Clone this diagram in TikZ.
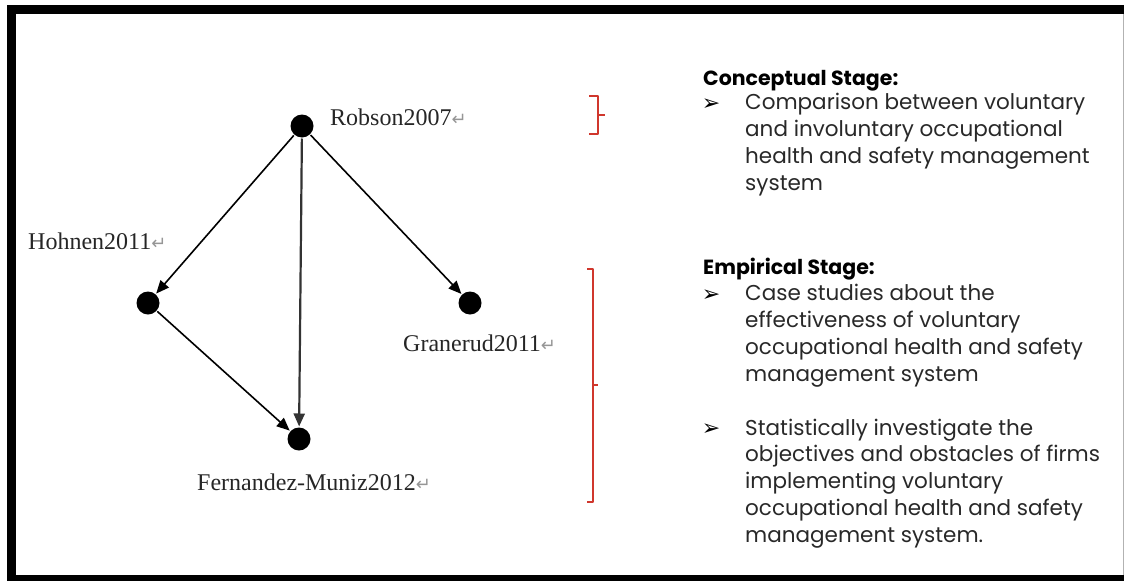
\documentclass[tikz,border=0pt]{standalone}
\usepackage{fontspec}
\setmainfont{Liberation Serif}
\setsansfont{Poppins}
\newfontfamily\symfont{DejaVu Sans}
\usetikzlibrary{arrows.meta}
\definecolor{bracketred}{RGB}{208,55,45}
\definecolor{retgray}{RGB}{150,150,150}
\definecolor{bodytext}{RGB}{40,40,40}
\newcommand{\retsym}{{\color{retgray}\symfont\fontsize{18}{18}\selectfont ↵}}
\newcommand{\bulsym}{{\symfont\fontsize{22}{22}\selectfont ➢}}
\tikzset{
  every picture/.style={line join=round, >=Triangle},
  dot/.style={circle, fill=black, minimum size=23pt, inner sep=0pt, outer sep=1pt},
  cite/.style={font=\fontsize{24}{24}\selectfont, text=black!85, inner sep=0pt, anchor=west},
  link/.style={-{Triangle[length=13pt,width=11pt]}, line width=1.6pt},
  brace/.style={draw=bracketred, line width=1.3pt},
  stage/.style={font=\sffamily\fontsize{21.5}{26.7}\selectfont, text=bodytext, align=left, anchor=base west, inner sep=0pt},
  head/.style={font=\sffamily\bfseries\fontsize{20.5}{26.7}\selectfont, anchor=base west, inner sep=0pt},
  bul/.style={inner sep=0pt, anchor=base},
}
\begin{document}
\begin{tikzpicture}[x=1pt,y=-1pt]
\useasboundingbox (0,0) rectangle (1124,581);
% frame
\fill (7,5) rectangle (1124,14);
\fill (7,5) rectangle (16,581);
\fill (7,575) rectangle (1124,581);
\fill[black!30] (1122.5,14) rectangle (1124,575);

% citation graph
\node[dot] (rob) at (302,126) {};
\node[dot] (hoh) at (148,303) {};
\node[dot] (gra) at (470,303) {};
\node[dot] (fer) at (299,439) {};
\node[cite] (roblab) at (330,117) {Robson2007\retsym};
\node[cite] (hohlab) at (28,241) {Hohnen2011\retsym};
\node[cite] (gralab) at (403,343) {Granerud2011\retsym};
\node[cite] (ferlab) at (197,482) {Fernandez-Muniz2012\retsym};

\draw[link] (rob) -- (hoh);
\draw[link, line width=2.2pt, black!80] (rob) -- (fer);
\draw[link] (rob) -- (gra);
\draw[link] (hoh) -- (fer);

% brackets
\draw[brace] (589,96) -- (598,96) -- (598,134) -- (589,134) (598,115) -- (605,115);
\draw[brace] (587,269) -- (593,269) -- (593,502) -- (587,502) (593,385) -- (598,385);

% stages (base = last line)
\node[head] (conhead) at (703,85) {Conceptual Stage:};
\node[bul] (conbul) at (711,110) {\bulsym};
\node[stage] (context) at (745,190) {Comparison between voluntary\\and involuntary occupational\\health and safety management\\system};

\node[head] (emphead) at (703,274) {Empirical Stage:};
\node[bul] (empbula) at (711,301) {\bulsym};
\node[stage] (emptexta) at (745,381) {Case studies about the\\effectiveness of voluntary\\occupational health and safety\\management system};
\node[bul] (empbulb) at (711,435) {\bulsym};
\node[stage] (emptextb) at (745,542) {Statistically investigate the\\objectives and obstacles of firms\\implementing voluntary\\occupational health and safety\\management system.};
\end{tikzpicture}
\end{document}
